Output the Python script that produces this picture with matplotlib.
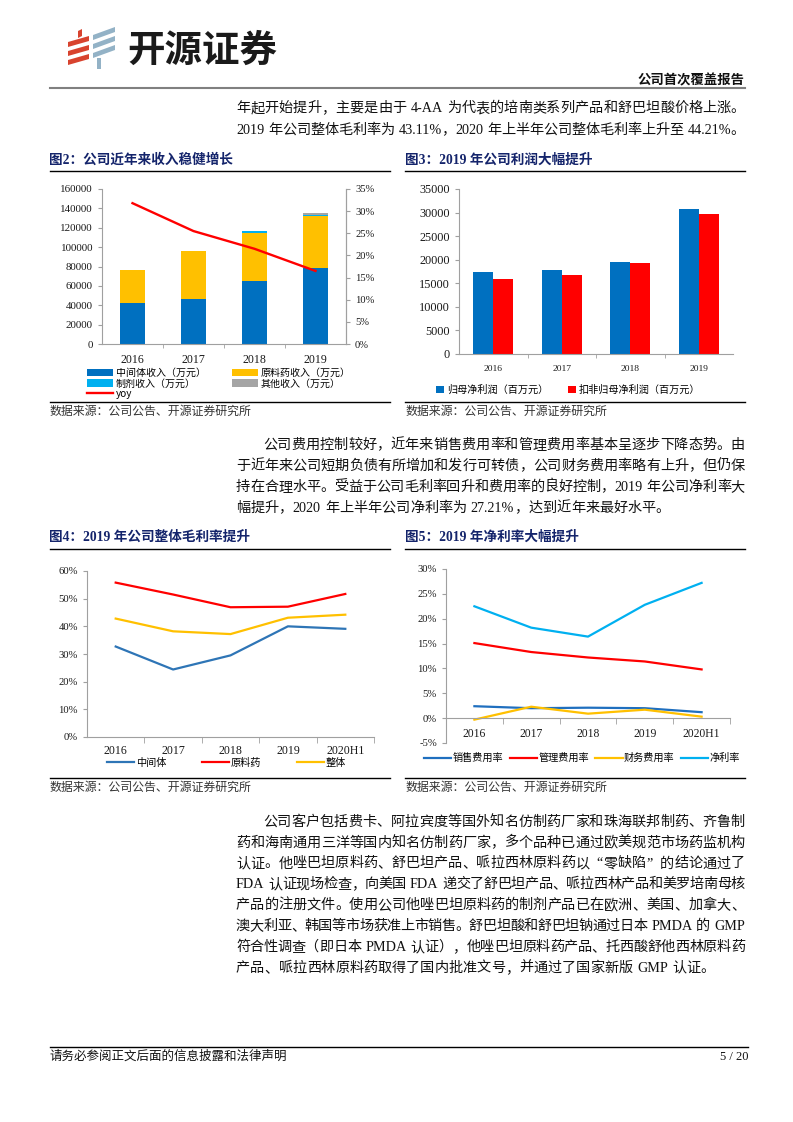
import re
import numpy as np
import matplotlib
matplotlib.use('Agg')
import matplotlib.pyplot as plt
from matplotlib.patches import Polygon
from matplotlib.lines import Line2D
from matplotlib.ticker import FuncFormatter, FixedLocator

CJK = 'Noto Sans CJK SC'
SERIF = ['Liberation Serif', CJK]
plt.rcParams['font.family'] = [CJK, 'DejaVu Sans']
plt.rcParams['axes.unicode_minus'] = False

W, H = 793, 1122

years4 = ['2016', '2017', '2018', '2019']
mid_rev = [42000, 46000, 65500, 78000]      # 中间体收入
api_rev = [34500, 50000, 49000, 54000]      # 原料药收入
prep_rev = [0, 0, 2000, 1500]               # 制剂收入
other_rev = [0, 0, 300, 1500]               # 其他收入
rev_yoy = [0.318, 0.255, 0.215, 0.165]

np_parent = [17400, 17800, 19500, 30700]    # 归母净利润
np_deducted = [15900, 16700, 19300, 29600]  # 扣非归母净利润

years5 = ['2016', '2017', '2018', '2019', '2020H1']
gm_mid = [0.327, 0.244, 0.295, 0.400, 0.391]
gm_api = [0.558, 0.515, 0.469, 0.471, 0.517]
gm_total = [0.428, 0.382, 0.372, 0.4311, 0.4421]

sell_rate = [0.024, 0.020, 0.021, 0.020, 0.012]
admin_rate = [0.151, 0.133, 0.122, 0.114, 0.098]
fin_rate = [-0.003, 0.023, 0.009, 0.017, 0.003]
net_margin = [0.225, 0.182, 0.164, 0.228, 0.2721]

para1 = ['年起开始提升，主要是由于 4-AA 为代表的培南类系列产品和舒巴坦酸价格上涨。',
         '2019 年公司整体毛利率为 43.11%，2020 年上半年公司整体毛利率上升至 44.21%。']
para2 = ['公司费用控制较好，近年来销售费用率和管理费用率基本呈逐步下降态势。由',
         '于近年来公司短期负债有所增加和发行可转债，公司财务费用率略有上升，但仍保',
         '持在合理水平。受益于公司毛利率回升和费用率的良好控制，2019 年公司净利率大',
         '幅提升，2020 年上半年公司净利率为 27.21%，达到近年来最好水平。']
para3 = ['公司客户包括费卡、阿拉宾度等国外知名仿制药厂家和珠海联邦制药、齐鲁制',
         '药和海南通用三洋等国内知名仿制药厂家，多个品种已通过欧美规范市场药监机构',
         '认证。他唑巴坦原料药、舒巴坦产品、哌拉西林原料药以“零缺陷”的结论通过了',
         'FDA 认证现场检查，向美国 FDA 递交了舒巴坦产品、哌拉西林产品和美罗培南母核',
         '产品的注册文件。使用公司他唑巴坦原料药的制剂产品已在欧洲、美国、加拿大、',
         '澳大利亚、韩国等市场获准上市销售。舒巴坦酸和舒巴坦钠通过日本 PMDA 的 GMP',
         '符合性调查（即日本 PMDA 认证），他唑巴坦原料药产品、托西酸舒他西林原料药',
         '产品、哌拉西林原料药取得了国内批准文号，并通过了国家新版 GMP 认证。']

BLUE = '#0070C0'
RED = '#FF0000'
GOLD = '#FFC000'
SKY = '#00B0F0'
GREY = '#A5A5A5'
NAVY = '#14246B'
SPINE = '#A0A0A0'
OPENERS = '（“《'


def fx(x):
    return x / W


def fy(y):
    return 1 - y / H


def box(l, t, r, b):
    return [l / W, 1 - b / H, (r - l) / W, (b - t) / H]


fig = plt.figure(figsize=(7.93, 11.22), dpi=100)
renderer = fig.canvas.get_renderer()


def hline(x0, x1, y, color='black', lw=1.0):
    fig.add_artist(Line2D([fx(x0), fx(x1)], [fy(y), fy(y)], color=color, lw=lw))


def put_line(x, y, s, right=None, size=10.2):
    # lay a line out token by token so that it can be justified to `right`
    em = size * 100 / 72
    toks = [(m.group(2), bool(m.group(1)))
            for m in re.finditer(r'( ?)([A-Za-z0-9.%\-]+|\S)', s)]
    widths = []
    for tok, _ in toks:
        if ord(tok[0]) > 0x2000:
            widths.append(em)
        else:
            t = fig.text(0, 0, tok, family=SERIF, fontsize=size)
            widths.append(t.get_window_extent(renderer).width)
            t.remove()
    base = [em * 0.3 if flag else 0 for _, flag in toks[1:]]
    extra = 0
    if right is not None:
        extra = (right - x - sum(widths) - sum(base)) / max(len(toks) - 1, 1)
    cx = x
    yb = y + 0.36 * em
    for i, (tok, _) in enumerate(toks):
        if i > 0:
            cx += base[i - 1] + extra
        if tok in OPENERS:
            # opening marks sit at the right side of their box
            fig.text(fx(cx + widths[i] - 1), fy(yb), tok, family=SERIF,
                     fontsize=size, ha='right', va='baseline', color='#111111')
        else:
            fig.text(fx(cx), fy(yb), tok, family=SERIF, fontsize=size,
                     ha='left', va='baseline', color='#111111')
        cx += widths[i]


def paragraph(lines, y0, step, indent_first=True, last_full=False):
    for i, s in enumerate(lines):
        x = 263 if (i == 0 and indent_first) else 236
        full = last_full or i < len(lines) - 1
        put_line(x, y0 + i * step, s, right=745 if full else None)


# ---- page header ----
def stripe(x0, x1, yl, rise, thick, color):
    pts = [(x0, yl), (x1, yl - rise), (x1, yl - rise - thick), (x0, yl - thick)]
    fig.add_artist(Polygon([(fx(a), fy(b)) for a, b in pts], closed=True,
                           color=color, lw=0))


for yl in (47, 56, 65):
    stripe(68, 89, yl, 6, 5, '#D8432E')
stripe(78, 82, 38, 2, 7, '#D8432E')
for yl in (40, 49, 58):
    stripe(93, 115, yl, 8, 5, '#93B2C6')
stripe(97, 101, 69, 0, 11, '#93B2C6')

fig.text(fx(127), fy(50), '开源证券', fontsize=27, fontweight='bold',
         color='#1a1a1a', ha='left', va='center')
fig.text(fx(745), fy(80), '公司首次覆盖报告', fontsize=9.6, fontweight='bold',
         ha='right', va='center', color='#111111')
hline(50, 745, 88, color='#808080', lw=1.5)

paragraph(para1, 107, 21.5, indent_first=False, last_full=True)


def fig_title(x, y, s):
    fig.text(fx(x), fy(y), s, family=SERIF, fontsize=9.8, fontweight='bold',
             color=NAVY, ha='left', va='center')


def source(x, y):
    fig.text(fx(x), fy(y), '数据来源：公司公告、开源证券研究所', family=SERIF,
             fontsize=8.6, color='#333333', ha='left', va='center')


def style_axis(ax, spines=('left', 'bottom')):
    for k, sp in ax.spines.items():
        sp.set_visible(k in spines)
        sp.set_color(SPINE)
        sp.set_linewidth(0.8)
    ax.tick_params(colors=SPINE, labelcolor='#1a1a1a')
    ax.patch.set_alpha(0)


pct = FuncFormatter(lambda v, p: f'{v * 100:.0f}%')

# ---- 图2 ----
fig_title(49, 160, '图2：公司近年来收入稳健增长')
hline(50, 390, 171)
ax = fig.add_axes(box(102, 189, 346, 344))
x4 = np.arange(len(years4))
bw = 0.41
b0 = np.array(mid_rev, dtype=float)
b1 = b0 + np.array(api_rev)
b2 = b1 + np.array(prep_rev)
h_mid = ax.bar(x4, mid_rev, bw, color=BLUE, label='中间体收入（万元）')
h_api = ax.bar(x4, api_rev, bw, bottom=b0, color=GOLD, label='原料药收入（万元）')
h_prep = ax.bar(x4, prep_rev, bw, bottom=b1, color=SKY, label='制剂收入（万元）')
h_oth = ax.bar(x4, other_rev, bw, bottom=b2, color=GREY, label='其他收入（万元）')
ax.set_xlim(-0.5, 3.5)
ax.set_ylim(0, 160000)
ax.set_yticks(range(0, 160001, 20000))
ax.set_xticks(x4)
ax.set_xticklabels(years4)
ax.xaxis.set_minor_locator(FixedLocator([0.5, 1.5, 2.5]))
style_axis(ax, ('left', 'bottom', 'right'))
ax.tick_params(axis='x', which='major', length=0, pad=7)
ax.tick_params(axis='x', which='minor', length=3, color=SPINE)
ax.tick_params(axis='y', length=3)
for lb in ax.get_xticklabels():
    lb.set_family(SERIF)
    lb.set_fontsize(8.6)
for lb in ax.get_yticklabels():
    lb.set_family(SERIF)
    lb.set_fontsize(7.9)
ax2 = ax.twinx()
h_yoy, = ax2.plot(x4, rev_yoy, color=RED, lw=1.7, label='yoy')
ax2.set_ylim(0, 0.35)
ax2.set_yticks(np.arange(0, 0.3501, 0.05))
ax2.yaxis.set_major_formatter(pct)
style_axis(ax2, ('right',))
ax2.tick_params(axis='y', length=3)
for lb in ax2.get_yticklabels():
    lb.set_family(SERIF)
    lb.set_fontsize(7.6)
fig.legend(handles=[h_mid, h_prep, h_yoy, h_api, h_oth],
           loc='upper left', bbox_to_anchor=(fx(87), fy(368)), ncol=2,
           frameon=False, fontsize=7.2, handlelength=2.6, handleheight=0.75,
           handletextpad=0.3, labelspacing=0.05, columnspacing=2.6,
           borderpad=0, borderaxespad=0)
hline(50, 390, 402)
source(49, 412)

# ---- 图3 ----
fig_title(405, 160, '图3：2019 年公司利润大幅提升')
hline(405, 745, 171)
ax = fig.add_axes(box(459, 189, 733, 354))
w = 0.29
ax.bar(x4 - w / 2, np_parent, w, color=BLUE, label='归母净利润（百万元）')
ax.bar(x4 + w / 2, np_deducted, w, color=RED, label='扣非归母净利润（百万元）')
ax.set_xlim(-0.5, 3.5)
ax.set_ylim(0, 35000)
ax.set_yticks(range(0, 35001, 5000))
ax.set_xticks(x4)
ax.set_xticklabels(years4)
ax.xaxis.set_minor_locator(FixedLocator([0.5, 1.5, 2.5]))
style_axis(ax)
ax.tick_params(axis='x', which='major', length=0, pad=8)
ax.tick_params(axis='x', which='minor', length=3, color=SPINE)
ax.tick_params(axis='y', length=3)
for lb in ax.get_xticklabels():
    lb.set_family(SERIF)
    lb.set_fontsize(6.8)
for lb in ax.get_yticklabels():
    lb.set_family(SERIF)
    lb.set_fontsize(8.8)
ax.legend(loc='center left', bbox_to_anchor=(fx(436), fy(390)),
          bbox_transform=fig.transFigure, ncol=2, frameon=False, fontsize=7.3,
          handlelength=0.8, handleheight=0.8, handletextpad=0.3,
          columnspacing=1.9, borderpad=0, borderaxespad=0)
hline(405, 745, 402)
source(405, 412)

# ---- body paragraph ----
paragraph(para2, 443.5, 21)

# ---- 图4 ----
fig_title(49, 537, '图4：2019 年公司整体毛利率提升')
hline(50, 390, 549)
ax = fig.add_axes(box(87, 571, 374, 737))
x5 = np.arange(len(years5))
ax.plot(x5, gm_mid, color='#2E75B6', lw=1.6, label='中间体')
ax.plot(x5, gm_api, color=RED, lw=1.6, label='原料药')
ax.plot(x5, gm_total, color=GOLD, lw=1.6, label='整体')
ax.set_xlim(-0.5, 4.5)
ax.set_ylim(0, 0.6)
ax.set_yticks(np.arange(0, 0.601, 0.1))
ax.yaxis.set_major_formatter(pct)
ax.set_xticks(x5)
ax.set_xticklabels(years5)
ax.xaxis.set_minor_locator(FixedLocator([0.5, 1.5, 2.5, 3.5, 4.5]))
style_axis(ax)
ax.tick_params(axis='x', which='major', length=0, pad=6)
ax.tick_params(axis='x', which='minor', length=4, color=SPINE)
ax.tick_params(axis='y', length=3)
for lb in ax.get_xticklabels():
    lb.set_family(SERIF)
    lb.set_fontsize(8.6)
for lb in ax.get_yticklabels():
    lb.set_family(SERIF)
    lb.set_fontsize(7.7)
ax.legend(loc='center left', bbox_to_anchor=(fx(107), fy(763)),
          bbox_transform=fig.transFigure, ncol=3, frameon=False, fontsize=7.3,
          handlelength=2.7, handletextpad=0.15, columnspacing=3.5,
          borderpad=0, borderaxespad=0)
hline(50, 390, 778)
source(49, 788)

# ---- 图5 ----
fig_title(405, 537, '图5：2019 年净利率大幅提升')
hline(405, 745, 549)
ax = fig.add_axes(box(446, 569, 730, 743))
ax.plot(x5, sell_rate, color='#1F6FBF', lw=1.6, label='销售费用率')
ax.plot(x5, admin_rate, color=RED, lw=1.6, label='管理费用率')
ax.plot(x5, fin_rate, color=GOLD, lw=1.6, label='财务费用率')
ax.plot(x5, net_margin, color=SKY, lw=1.6, label='净利率')
ax.set_xlim(-0.5, 4.5)
ax.set_ylim(-0.05, 0.30)
ax.set_yticks(np.arange(-0.05, 0.3001, 0.05))
ax.yaxis.set_major_formatter(pct)
ax.set_xticks(x5)
ax.set_xticklabels(years5)
ax.xaxis.set_minor_locator(FixedLocator([0.5, 1.5, 2.5, 3.5, 4.5]))
style_axis(ax)
ax.spines['bottom'].set_position(('data', 0))
ax.tick_params(axis='x', which='major', length=0, pad=7)
ax.tick_params(axis='x', which='minor', length=4, color=SPINE)
ax.tick_params(axis='y', length=3)
for lb in ax.get_xticklabels():
    lb.set_family(SERIF)
    lb.set_fontsize(8.4)
for lb in ax.get_yticklabels():
    lb.set_family(SERIF)
    lb.set_fontsize(7.7)
ax.legend(loc='center left', bbox_to_anchor=(fx(424), fy(758)),
          bbox_transform=fig.transFigure, ncol=4, frameon=False, fontsize=7.3,
          handlelength=2.7, handletextpad=0.15, columnspacing=0.6,
          borderpad=0, borderaxespad=0)
hline(405, 745, 778)
source(405, 788)

# ---- body paragraph ----
paragraph(para3, 820.5, 20.9)

# ---- footer ----
hline(50, 748, 1047)
fig.text(fx(50), fy(1057), '请务必参阅正文后面的信息披露和法律声明', family=SERIF,
         fontsize=9, ha='left', va='center', color='#111111')
fig.text(fx(748), fy(1057), '5 / 20', family=SERIF, fontsize=9,
         ha='right', va='center', color='#111111')

fig.savefig('out.png', dpi=100)
